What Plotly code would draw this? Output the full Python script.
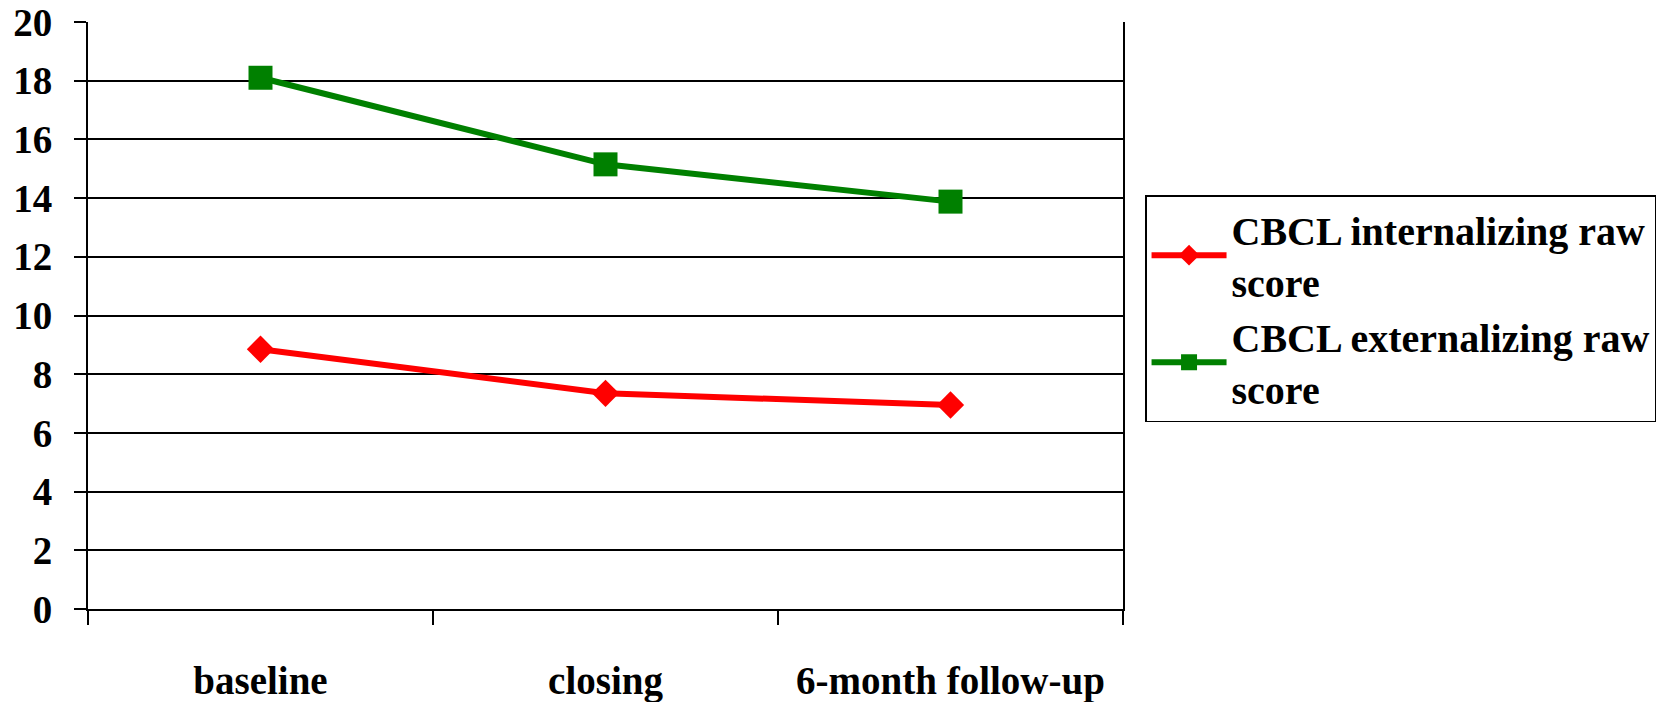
import plotly.graph_objects as go

categories = ["baseline", "closing", "6-month follow-up"]
internalizing = [8.85, 7.35, 6.95]
externalizing = [18.1, 15.15, 13.88]
series_names = ["CBCL internalizing raw<br>score", "CBCL externalizing raw<br>score"]

FONT = dict(family="Liberation Serif, Times New Roman, serif", color="black", weight="bold")

fig = go.Figure()
fig.add_trace(go.Scatter(
    x=categories, y=internalizing, name=series_names[0], mode="lines+markers",
    line=dict(color="#ff0000", width=6),
    marker=dict(symbol="diamond", size=21, color="#ff0000"),
))
fig.add_trace(go.Scatter(
    x=categories, y=externalizing, name=series_names[1], mode="lines+markers",
    line=dict(color="#008000", width=6),
    marker=dict(symbol="square", size=24, color="#008000"),
))

fig.update_layout(
    width=1667, height=702,
    margin=dict(l=88, r=544, t=22, b=93, autoexpand=False),
    paper_bgcolor="white", plot_bgcolor="white",
    font=dict(size=39, **FONT),
    showlegend=True,
    legend=dict(
        x=1.0213, xanchor="left", y=0.705, yanchor="top",
        bordercolor="black", borderwidth=1.5, bgcolor="white",
        font=dict(size=40, **FONT),
        itemwidth=75,
    ),
)
fig.update_xaxes(
    type="category", range=[-0.5, 2.5], automargin=False,
    showgrid=False, zeroline=False,
    showline=True, linecolor="black", linewidth=2.4,
    ticks="outside", tickson="boundaries", ticklen=14, tickwidth=1.6, tickcolor="black",
    ticklabelstandoff=36, ticklabeloverflow="allow",
    tickfont=dict(size=39, **FONT),
)
fig.update_yaxes(
    range=[0, 20], dtick=2, tick0=0, automargin=False,
    showgrid=True, gridcolor="black", gridwidth=1.8,
    zeroline=False,
    showline=True, linecolor="black", linewidth=1.8, mirror=True,
    ticks="outside", ticklen=12, tickwidth=1.6, tickcolor="black",
    ticklabelstandoff=14, ticklabeloverflow="allow",
    tickfont=dict(size=39, **FONT),
)

# remove the default page margin so the figure fills the window exactly
fig.write_html(
    "out.html",
    config={"displayModeBar": False},
    post_script="document.body.style.margin='0';document.body.style.overflow='hidden';",
)
